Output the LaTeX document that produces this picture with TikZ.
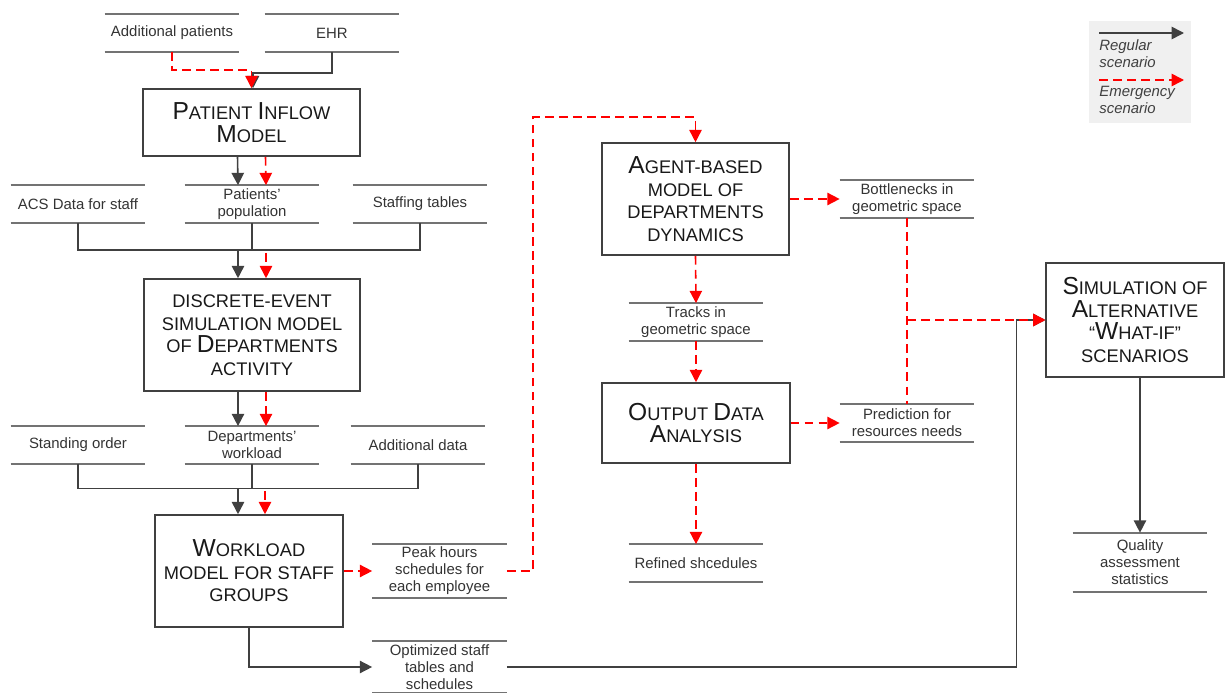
\documentclass[tikz,border=0pt]{standalone}
\usepackage{fontspec}
\setmainfont{Liberation Sans}
\usepackage{tikz}
\usetikzlibrary{calc, arrows.meta}

\newcommand{\initcap}[1]{{\fontsize{14}{12.8}\selectfont #1}}

\tikzset{
    model/.style={draw=black!75, line width=0.9pt, fill=white, align=center,
        text=black!90, font=\fontsize{10.4}{12.8}\selectfont, inner sep=2pt},
    store/.style={align=center, minimum width=2.68cm, minimum height=0.74cm,
        inner sep=1pt, text=black!80, font=\fontsize{8.5}{9.6}\selectfont},
    storeline/.style={draw=black!55, line width=1pt},
    link/.style={draw=black!75, line width=0.9pt},
    reg/.style={link, -{Triangle[length=7pt,width=7pt]}},
    emerline/.style={draw=red, line width=0.9pt, dash pattern=on 5pt off 3pt},
    emer/.style={emerline, -{Triangle[length=7pt,width=7pt]}},
    legtext/.style={align=left, inner sep=0pt, text=black!75,
        font=\fontsize{8.5}{9.6}\selectfont\itshape},
}

\begin{document}
\begin{tikzpicture}[x=0.02cm, y=-0.02cm]
    \useasboundingbox (0,0) rectangle (1225,693);

    % left column
    \node[store] (addp) at (172,33) {Additional patients};
    \node[store] (ehr) at (332,33) {EHR};
    \node[model, minimum width=4.34cm, minimum height=1.34cm] (pim) at (251.5,122.5)
        {\initcap{P}ATIENT \initcap{I}NFLOW\\\initcap{M}ODEL};

    \node[store] (acs) at (78,204) {ACS Data for staff};
    \node[store] (pop) at (252,204) {Patients'\\population};
    \node[store] (stf) at (420,204) {Staffing tables};

    \node[model, minimum width=4.32cm, minimum height=2.24cm] (des) at (252,335)
        {DISCRETE-EVENT\\SIMULATION MODEL\\OF \initcap{D}EPARTMENTS\\ACTIVITY};

    \node[store] (sto) at (78,445) {Standing order};
    \node[store] (dwl) at (252,445) {Departments'\\workload};
    \node[store] (add) at (418,445) {Additional data};

    \node[model, minimum width=3.76cm, minimum height=2.24cm] (wl) at (249,571)
        {\initcap{W}ORKLOAD\\MODEL FOR STAFF\\GROUPS};

    \node[store, minimum height=1.08cm] (peak) at (439.5,571)
        {Peak hours\\schedules for\\each employee};
    \node[store, minimum height=1.04cm] (opt) at (439.5,667)
        {Optimized staff\\tables and\\schedules};

    % middle column
    \node[model, minimum width=3.74cm, minimum height=2.24cm] (agent) at (695.5,199)
        {\initcap{A}GENT-BASED\\MODEL OF\\DEPARTMENTS\\DYNAMICS};
    \node[store] (bott) at (907,199) {Bottlenecks in\\geometric space};
    \node[store] (tracks) at (696,322) {Tracks in\\geometric space};
    \node[model, minimum width=3.75cm, minimum height=1.6cm] (out) at (696,423)
        {\initcap{O}UTPUT \initcap{D}ATA\\\initcap{A}NALYSIS};
    \node[store] (pred) at (907,423) {Prediction for\\resources needs};
    \node[store] (refd) at (696,563) {Refined shcedules};

    % right column
    \node[model, minimum width=3.55cm, minimum height=2.28cm] (sim) at (1135,320)
        {\initcap{S}IMULATION OF\\\initcap{A}LTERNATIVE\\``\initcap{W}HAT-IF''\\SCENARIOS};
    \node[store, minimum height=1.18cm] (qual) at (1140,562.5)
        {Quality\\assessment\\statistics};

    \foreach \s in {addp,ehr,acs,pop,stf,sto,dwl,add,peak,opt,bott,tracks,pred,refd,qual}
        \draw[storeline] (\s.north west) -- (\s.north east)
            (\s.south west) -- (\s.south east);

    % inputs of the inflow model
    \draw[reg] (ehr.south) -- ++(0,21) -| ([xshift=0.03cm]pim.north);
    \draw[emer] (addp.south) -- ++(0,18) -| (pim.north);

    \draw[reg] ([xshift=-0.28cm]pim.south) -- ([xshift=-0.28cm]pop.north);
    \draw[emer] ([xshift=0.28cm]pim.south) -- ([xshift=0.28cm]pop.north);

    \draw[link] (acs.south) -- ++(0,27) -| (stf.south);
    \draw[link] (pop.south) -- ++(0,27) coordinate (j1);
    \draw[reg] ([xshift=-0.28cm]j1) -- ([xshift=-0.28cm]des.north);
    \draw[emer] ([xshift=0.28cm,yshift=-0.06cm]j1) -- ([xshift=0.28cm]des.north);

    \draw[reg] ([xshift=-0.28cm]des.south) -- ([xshift=-0.28cm]dwl.north);
    \draw[emer] ([xshift=0.28cm]des.south) -- ([xshift=0.28cm]dwl.north);

    \draw[link] (sto.south) -- ++(0,24.5) -| (add.south);
    \draw[link] (dwl.south) -- ++(0,24.5) coordinate (j2);
    \draw[reg] ([xshift=-0.28cm]j2) -- ([xshift=-0.28cm]j2 |- wl.north);
    \draw[emer] ([xshift=0.26cm,yshift=-0.06cm]j2) -- ([xshift=0.26cm]j2 |- wl.north);

    % outputs of the workload model
    \draw[emer] (wl.east) -- (peak.west);
    \coordinate (bend) at (533,117);
    \draw[emer] (peak.east) -| (bend) -| (agent.north);
    \draw[reg] (wl.south) |- (opt.west);
    \draw[reg] (opt.east) -| ([xshift=-0.58cm]sim.west) -- (sim.west);

    % agent-based part
    \draw[emer] (agent.east) -- (bott.west);
    \draw[emer] (agent.south) -- (tracks.north);
    \draw[emer] (tracks.south) -- (out.north);
    \draw[emer] (out.east) -- (pred.west);
    \draw[emer] (out.south) -- (refd.north);
    \draw[emerline] (bott.south) -- (pred.north);
    \draw[emer] (bott.south |- sim.west) -- (sim.west);

    \draw[reg] (qual.north |- sim.south) -- (qual.north);

    % legend
    \node[fill=black!6, minimum width=2.04cm, minimum height=2.04cm, inner sep=0pt]
        (legend) at (1140,72) {};
    \coordinate (regA) at (1099,33);
    \coordinate (regB) at (1184,33);
    \draw[reg] (regA) -- (regB);
    \node[legtext, anchor=north west] (regtxt) at (1099,39) {Regular\\scenario};
    \coordinate (emA) at (1099,80);
    \coordinate (emB) at (1184,80);
    \draw[emer] (emA) -- (emB);
    \node[legtext, anchor=north west] (emtxt) at (1099,86) {Emergency\\scenario};
\end{tikzpicture}
\end{document}
